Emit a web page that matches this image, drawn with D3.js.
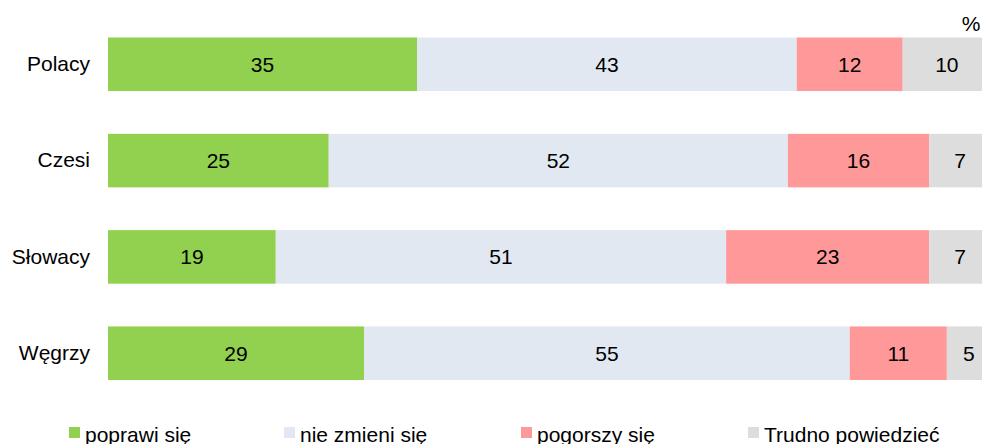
<html>
<head>
    <meta charset="utf-8">
    <script src="https://cdnjs.cloudflare.com/ajax/libs/d3/7.8.5/d3.min.js"></script>
    <style>
        body { margin: 0; background: #fff; }
        svg { display: block; font-family: "Liberation Sans", Arial, sans-serif; }
    </style>
</head>
<body>
    <script>
        var countries = ["Polacy", "Czesi", "Słowacy", "Węgrzy"];
        var seriesNames = ["poprawi się", "nie zmieni się", "pogorszy się", "Trudno powiedzieć"];
        var poprawi = [35, 25, 19, 29];
        var nieZmieni = [43, 52, 51, 55];
        var pogorszy = [12, 16, 23, 11];
        var trudno = [10, 7, 7, 5];
        var colors = ["#92D050", "#E1E8F2", "#FF9999", "#DDDDDD"];

        var width = 982;
        var height = 444;

        var svg = d3.select("body").append("svg")
            .attr("width", width)
            .attr("height", height);

        var data = countries.map(function (c, i) {
            return { country: c, s0: poprawi[i], s1: nieZmieni[i], s2: pogorszy[i], s3: trudno[i] };
        });
        var keys = ["s0", "s1", "s2", "s3"];
        var stacked = d3.stack().keys(keys)(data);

        // bars run a bit past the right edge, like the original
        var x = d3.scaleLinear()
            .domain([0, 100])
            .range([108, 991]);

        var y = d3.scaleBand()
            .domain(countries)
            .range([37.5, 380])
            .paddingInner(0.444)
            .paddingOuter(0);

        var layers = svg.selectAll("g.layer")
            .data(stacked)
            .enter().append("g")
            .attr("class", "layer")
            .attr("fill", function (d, i) { return colors[i]; });

        layers.selectAll("rect")
            .data(function (d) { return d; })
            .enter().append("rect")
            .attr("x", function (d) { return x(d[0]); })
            .attr("y", function (d) { return y(d.data.country); })
            .attr("width", function (d) { return x(d[1]) - x(d[0]); })
            .attr("height", y.bandwidth());

        layers.selectAll("text")
            .data(function (d) { return d; })
            .enter().append("text")
            .attr("x", function (d) { return (x(d[0]) + x(d[1])) / 2; })
            .attr("y", function (d) { return y(d.data.country) + y.bandwidth() / 2; })
            .attr("dy", "0.36em")
            .attr("text-anchor", "middle")
            .attr("fill", "#000")
            .attr("font-size", 21)
            .text(function (d) { return d[1] - d[0]; });

        var yAxis = d3.axisLeft(y).tickSize(0).tickPadding(18);
        var yAxisGroup = svg.append("g")
            .attr("transform", "translate(108,0)")
            .call(yAxis);
        yAxisGroup.select(".domain").remove();
        yAxisGroup.selectAll("text")
            .attr("font-size", 21)
            .attr("font-family", "'Liberation Sans', Arial, sans-serif")
            .attr("fill", "#000");

        svg.append("text")
            .attr("x", 971)
            .attr("y", 31)
            .attr("text-anchor", "middle")
            .attr("font-size", 21)
            .text("%");

        var legendX = [69, 284, 521, 748];
        var legend = svg.selectAll("g.legend")
            .data(seriesNames)
            .enter().append("g")
            .attr("class", "legend")
            .attr("transform", function (d, i) { return "translate(" + legendX[i] + ",427)"; });

        legend.append("rect")
            .attr("width", 11)
            .attr("height", 11)
            .attr("fill", function (d, i) { return colors[i]; });

        legend.append("text")
            .attr("x", 16)
            .attr("y", 14.5)
            .attr("font-size", 21)
            .text(function (d) { return d; });
    </script>
</body>
</html>
